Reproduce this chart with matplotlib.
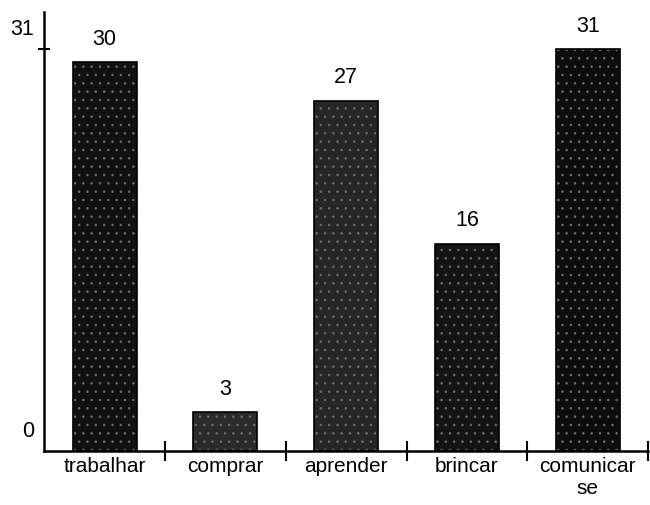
import matplotlib
matplotlib.use("Agg")
import matplotlib.pyplot as plt
import matplotlib.transforms as mtransforms
import numpy as np

categories = ["trabalhar", "comprar", "aprender", "brincar", "comunicar\nse"]
values = [30, 3, 27, 16, 31]
ytick_vals = [0, 31]
ytick_labels = ["0", "31"]

plt.rcParams['font.family'] = ['Liberation Sans', 'DejaVu Sans']
plt.rcParams['hatch.linewidth'] = 0.6

fig = plt.figure(figsize=(6.5, 5.05), dpi=100)
ax = fig.add_axes([0.068, 0.107, 0.929, 0.869])

x = np.arange(len(categories))
shades = ["#111111", "#2b2b2b", "#262626", "#141414", "#0d0d0d"]
bars = ax.bar(x, values, width=0.53, color=shades, edgecolor="#6a6a6a",
              linewidth=0, hatch="..", zorder=2)
# outline
ax.bar(x, values, width=0.53, fill=False, edgecolor="black", linewidth=1.2, zorder=3)

for xi, v in zip(x, values):
    ax.annotate(str(v), (xi, v), xytext=(0, 9), textcoords="offset points",
                ha="center", va="bottom", fontsize=15.5)

ax.set_xlim(-0.5, len(categories) - 0.5)
ax.set_ylim(0, 33.85)

ax.spines['top'].set_visible(False)
ax.spines['right'].set_visible(False)
ax.spines['left'].set_linewidth(1.8)
ax.spines['bottom'].set_linewidth(1.8)

ax.set_yticks(ytick_vals)
ax.set_yticklabels(ytick_labels, fontsize=15.5)
ax.tick_params(axis='y', direction='inout', length=9, width=1.5, pad=3)
ax.yaxis.get_major_ticks()[0].tick1line.set_visible(False)
# labels sit above their tick positions, as in the original
offset = mtransforms.ScaledTranslation(0, 22 / 100, fig.dpi_scale_trans)
for lab in ax.get_yticklabels():
    lab.set_transform(lab.get_transform() + offset)

# category labels between boundary ticks
ax.set_xticks(x)
ax.set_xticklabels(categories, fontsize=15, linespacing=1.2)
ax.tick_params(axis='x', length=0, pad=4)
ax.set_xticks(np.arange(len(categories)) + 0.5, minor=True)
ax.tick_params(axis='x', which='minor', direction='inout', length=14, width=1.5)

fig.savefig("out.png", dpi=100)
